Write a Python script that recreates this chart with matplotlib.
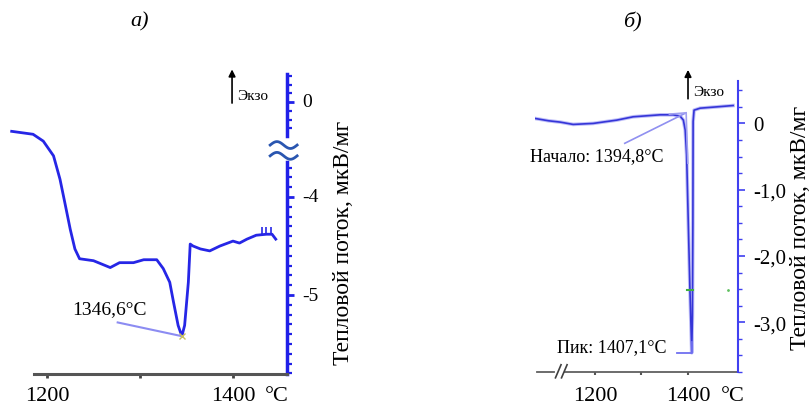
import numpy as np
import matplotlib
matplotlib.use("Agg")
import matplotlib.pyplot as plt
from matplotlib.transforms import blended_transform_factory

plt.rcParams["font.family"] = ["Liberation Serif", "DejaVu Serif"]

# panel a) — values on the lower (unbroken) scale of the axis
left_t = [1162, 1185, 1196, 1207, 1214, 1219, 1225, 1230, 1235, 1250, 1268, 1278, 1293,
          1304, 1318, 1325, 1332, 1336, 1341, 1345, 1348, 1352, 1354, 1357, 1365, 1375,
          1386, 1400, 1407, 1415, 1425, 1436, 1442, 1446]
left_v = [-3.33, -3.36, -3.43, -3.58, -3.82, -4.05, -4.33, -4.53, -4.63, -4.65, -4.72,
          -4.67, -4.67, -4.64, -4.64, -4.73, -4.87, -5.07, -5.31, -5.42, -5.31, -4.87,
          -4.48, -4.50, -4.53, -4.55, -4.50, -4.45, -4.47, -4.43, -4.39, -4.38, -4.38, -4.43]
left_yticks = [-3.03, -4, -5]
left_ylabels = ["0", "-4", "-5"]
left_peak = (1345, -5.42)

# panel б)
right_t = [1071, 1100, 1125, 1153, 1196, 1247, 1282, 1340, 1368, 1383, 1390, 1394, 1397,
           1400.5, 1404, 1408, 1409.5, 1410.5, 1411, 1413, 1426, 1462, 1497]
right_v = [0.075, 0.04, 0.02, -0.015, 0.0, 0.05, 0.10, 0.13, 0.13, 0.11, 0.05, -0.1, -0.47,
           -1.47, -2.46, -3.46, -2.9, -1.5, 0.03, 0.2, 0.23, 0.25, 0.27]
right_yticks = [0, -1, -2, -3]
right_ylabels = ["0", "-1,0", "-2,0", "-3,0"]
right_peak = (1408, -3.46)

xticks = [1200, 1300, 1400]
xlabels = ["1200", "", "1400"]
ylabel = "Тепловой поток, мкВ/мг"

fig = plt.figure(figsize=(8.1, 4.1), dpi=100)

# ---------------- panel a)
ax1 = fig.add_axes([10 / 810, 35 / 410, 277 / 810, 300 / 410])
ax1.set_xlim(1160.2, 1458.1)
ax1.set_ylim(-5.806, -2.745)
ax1.plot(left_t, left_v, color="#2626e6", lw=2)
ax1.vlines([1431, 1436, 1441], -4.38, -4.31, color="#2626e6", lw=1.2)
for s in ["top", "left", "right"]:
    ax1.spines[s].set_visible(False)
ax1.set_yticks([])
ax1.spines["bottom"].set_color("#555555")
ax1.spines["bottom"].set_linewidth(2.2)
ax1.spines["bottom"].set_bounds(1186, 1458.1)
ax1.set_xticks(xticks, xlabels, fontsize=16)
ax1.tick_params(axis="x", colors="#444444", length=3, width=2, labelcolor="black", pad=6)

# broken right axis drawn by hand
bt = blended_transform_factory(ax1.transAxes, ax1.transData)
ax1.plot([1, 1], [-2.745, -3.38], color="#2020e8", lw=2.5, transform=bt, clip_on=False)
ax1.plot([1, 1], [-3.64, -5.806], color="#2020e8", lw=2.5, transform=bt, clip_on=False)
minor_top = [-2.77, -2.86, -2.94, -3.12, -3.21, -3.30]
minor_bot = [v for v in np.round(np.arange(-3.7, -5.81, -0.1), 2) if v not in (-4.0, -5.0)]
ax1.hlines(minor_top + minor_bot, 1, 1.018, color="#2020e8", lw=1.6, transform=bt, clip_on=False)
ax1.hlines(left_yticks, 1, 1.026, color="#2020e8", lw=2, transform=bt, clip_on=False)
for v, lab in zip(left_yticks, left_ylabels):
    ax1.text(1.055, v, lab, transform=bt, fontsize=14, ha="left", va="center")
wx = np.linspace(1440, 1469, 40)
for base in (-3.47, -3.58):
    ax1.plot(wx, base + 0.035 * np.sin((wx - 1440) / 29 * 2 * np.pi), color="#2a56b0",
             lw=2, clip_on=False)
ax1.text(1.205, 0.44, ylabel, transform=ax1.transAxes, rotation=90, fontsize=17,
         ha="center", va="center")
fig.text(277 / 810, 1 - 397 / 410, "°C", fontsize=16, ha="center", va="center")

ax1.plot([1276, left_peak[0]], [-5.28, left_peak[1]], color="#8c8cf2", lw=1.5)
ax1.plot(*left_peak, marker="x", color="#c8c060", ms=4)
ax1.text(1227, -5.14, "1346,6°C", fontsize=14, ha="left", va="center")
ax1.annotate("", xy=(1399, -2.67), xytext=(1399, -3.07),
             arrowprops=dict(arrowstyle="-|>", color="black", lw=1.2), annotation_clip=False)
ax1.text(1404, -2.96, "Экзо", fontsize=11, ha="left", va="center")
fig.text(140 / 810, 1 - 22 / 410, "а)", fontsize=16, style="italic", ha="center", va="center")

# ---------------- panel б)
ax2 = fig.add_axes([535 / 810, 37 / 410, 203 / 810, 291 / 410])
ax2.set_xlim(1071, 1507.5)
ax2.set_ylim(-3.70, 0.64)
ax2.plot(right_t, right_v, color="#a4a4f6", lw=2.6, alpha=0.7)
ax2.plot(right_t, right_v, color="#3535d8", lw=1.2)
for s in ["top", "left", "bottom"]:
    ax2.spines[s].set_visible(False)
ax2.spines["right"].set_color("#4040f0")
ax2.spines["right"].set_linewidth(1.5)
ax2.yaxis.tick_right()
ax2.set_yticks(right_yticks, right_ylabels, fontsize=15)
ax2.set_yticks(np.arange(0.5, -3.8, -0.25), minor=True)
ax2.tick_params(axis="y", which="both", colors="#4040f0", labelcolor="black")
ax2.tick_params(axis="y", which="major", length=5, width=1.2, pad=6)
ax2.tick_params(axis="y", which="minor", length=3, width=1)
ax2.set_xticks(xticks, xlabels, fontsize=16)
ax2.tick_params(axis="x", colors="#555555", length=2, width=1.5, labelcolor="black", pad=8)

bx = blended_transform_factory(ax2.transData, ax2.transAxes)
ax2.plot([1076, 1112], [0, 0], color="#606060", lw=1.3, transform=bx, clip_on=False)
ax2.plot([1136, 1507.5], [0, 0], color="#606060", lw=1.3, transform=bx, clip_on=False)
for x0 in (1115, 1128):
    ax2.plot([x0, x0 + 12], [-0.02, 0.025], color="#404040", lw=1.2, transform=bx, clip_on=False)
ax2.text(1.31, 0.5, ylabel, transform=ax2.transAxes, rotation=90, fontsize=17,
         ha="center", va="center")
fig.text(733 / 810, 1 - 397 / 410, "°C", fontsize=16, ha="center", va="center")

ax2.plot([1264, 1393], [-0.30, 0.15], color="#9090f0", lw=1.2)
ax2.plot([1360, 1396], [0.14, 0.16], color="#a0a0f0", lw=1.2)
ax2.plot([1396, 1399.5], [0.16, -0.6], color="#a0a0f0", lw=1.2)
ax2.text(1060, -0.48, "Начало: 1394,8°С", fontsize=13, ha="left", va="center")
ax2.plot([1376, right_peak[0], right_peak[0]], [right_peak[1], right_peak[1], -3.3],
         color="#7070f0", lw=1.3)
ax2.text(1118, -3.36, "Пик: 1407,1°С", fontsize=13, ha="left", va="center")
ax2.plot([1398, 1411], [-2.52, -2.52], color="#40b040", lw=1.5)
ax2.plot([1486], [-2.52], marker=".", color="#60c060", ms=2)
ax2.annotate("", xy=(1400, 0.85), xytext=(1400, 0.33),
             arrowprops=dict(arrowstyle="-|>", color="black", lw=1.2), annotation_clip=False)
ax2.text(1411, 0.48, "Экзо", fontsize=11, ha="left", va="center")
fig.text(632 / 810, 1 - 22 / 410, "б)", fontsize=16, style="italic", ha="center", va="center")

fig.savefig("out.png", dpi=100)
